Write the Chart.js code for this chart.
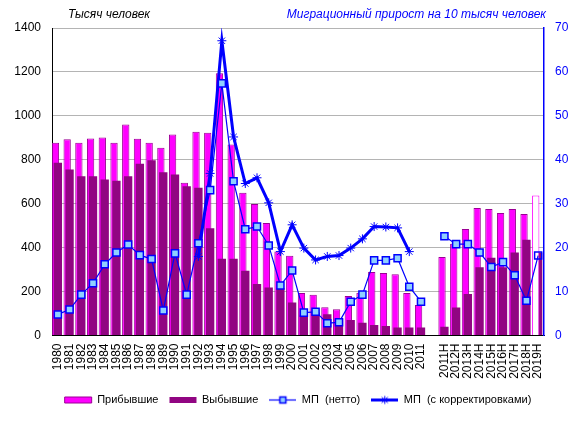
<!DOCTYPE html>
<html>
<head>
<meta charset="utf-8">
<script src="https://cdn.jsdelivr.net/npm/chart.js@4/dist/chart.umd.min.js"></script>
<style>
    html, body { margin: 0; padding: 0; background: #fff; }
    #wrap { position: relative; width: 578px; height: 423px; }
    .axis-title { position: absolute; top: 7px; font: italic 12px "Liberation Sans", Arial, sans-serif; white-space: nowrap; }
    #title-left { left: 68px; color: #000; }
    #title-right { right: 32px; color: #0000ff; }
</style>
</head>
<body>
<div id="wrap">
    <canvas id="chart" width="578" height="423"></canvas>
    <div class="axis-title" id="title-left">Тысяч человек</div>
    <div class="axis-title" id="title-right">Миграционный прирост на 10 тысяч человек</div>
</div>
<script>
// Categories: 1980–2011, an empty slot, then 2011H–2019H
const years = [
    '1980', '1981', '1982', '1983', '1984', '1985', '1986', '1987', '1988', '1989',
    '1990', '1991', '1992', '1993', '1994', '1995', '1996', '1997', '1998', '1999',
    '2000', '2001', '2002', '2003', '2004', '2005', '2006', '2007', '2008', '2009',
    '2010', '2011', '',
    '2011H', '2012H', '2013H', '2014H', '2015H', '2016H', '2017H', '2018H', '2019H'
];

// Тысяч человек (left axis)
const arrivals = [
    878, 893, 878, 897, 902, 878, 961, 896, 878, 855,
    915, 696, 928, 923, 1194, 870, 650, 599, 512, 383,
    363, 193, 185, 129, 120, 180, 195, 289, 284, 279,
    193, 139, null,
    357, 418, 485, 581, 576, 558, 576, 553, 637
];
const departures = [
    786, 756, 725, 725, 710, 705, 725, 782, 798, 743,
    733, 680, 673, 488, 349, 349, 295, 235, 218, 215,
    150, 95, 105, 97, 76, 71, 58, 48, 43, 36,
    36, 36, null,
    40, 127, 189, 311, 354, 311, 378, 436, 378
];

// На 10 тысяч человек (right axis)
const netMigration = [
    4.8, 5.9, 9.3, 11.9, 16.2, 18.9, 20.7, 18.3, 17.4, 5.7,
    18.7, 9.3, 21.0, 33.1, 57.4, 35.1, 24.2, 24.8, 20.5, 11.4,
    14.8, 5.2, 5.4, 2.8, 3.0, 7.7, 9.3, 17.1, 17.1, 17.6,
    11.1, 7.7, null,
    22.6, 20.8, 20.8, 18.9, 15.6, 16.7, 13.7, 7.9, 18.2
];
const corrected = [
    null, null, null, null, null, null, null, null, null, null,
    null, null, 18.0, 36.9, 67.1, 45.2, 34.6, 35.9, 30.2, 19.1,
    25.2, 19.9, 17.2, 18.0, 18.2, 19.9, 22.0, 24.8, 24.7, 24.5,
    19.1, null, null,
    null, null, null, null, null, null, null, null, null
];

const leftTicks = [0, 200, 400, 600, 800, 1000, 1200, 1400];
const rightTicks = [0, 10, 20, 30, 40, 50, 60, 70];

// the last half-year is an estimate: drawn as an empty outline
const estimateLabel = '2019H';

const PINK = '#ff00ff';
const PINK_EDGE = '#9b0094';
const PURPLE = '#910582';
const BLUE = '#0000ff';
const SKY = '#8fd0ff';
const FONT = '"Liberation Sans", Arial, sans-serif';

Chart.defaults.font.family = FONT;
Chart.defaults.font.size = 12;
Chart.defaults.color = '#000';

const isEstimate = years.map(y => y === estimateLabel);

// legend icons for the two line series
function lineIcon(lineWidth, marker) {
    const c = document.createElement('canvas');
    c.width = 27; c.height = 13;
    const g = c.getContext('2d');
    g.strokeStyle = BLUE;
    g.lineWidth = lineWidth;
    g.beginPath(); g.moveTo(0, 6.5); g.lineTo(27, 6.5); g.stroke();
    g.lineWidth = 1;
    if (marker === 'rect') {
        g.fillStyle = SKY;
        g.fillRect(10.5, 3.5, 6, 6);
        g.lineWidth = 1.5;
        g.strokeRect(10.5, 3.5, 6, 6);
    } else {
        g.beginPath();
        g.moveTo(10.5, 3.5); g.lineTo(16.5, 9.5);
        g.moveTo(16.5, 3.5); g.lineTo(10.5, 9.5);
        g.moveTo(13.5, 2.5); g.lineTo(13.5, 10.5);
        g.stroke();
    }
    return c;
}

const chart = new Chart(document.getElementById('chart'), {
    type: 'bar',
    data: {
        labels: years,
        datasets: [
            {
                label: 'Прибывшие',
                data: arrivals.map((v, i) => isEstimate[i] ? null : v),
                backgroundColor: PINK,
                borderColor: PINK_EDGE,
                borderWidth: 1,
                yAxisID: 'y',
                stack: 'in',
                grouped: true,
                categoryPercentage: 0.82,
                barPercentage: 1.52,
                order: 4
            },
            {
                label: 'Выбывшие',
                data: departures,
                backgroundColor: PURPLE,
                borderColor: PURPLE,
                borderWidth: 0,
                yAxisID: 'y',
                grouped: false,
                categoryPercentage: 1,
                barPercentage: 0.71,
                order: 3
            },
            {
                type: 'line',
                label: 'МП  (нетто)',
                data: netMigration,
                yAxisID: 'y2',
                borderColor: BLUE,
                borderWidth: 1.2,
                pointStyle: 'rect',
                pointRadius: 5,
                pointBorderWidth: 1.5,
                pointBorderColor: BLUE,
                pointBackgroundColor: isEstimate.map(e => e ? 'rgba(0,0,0,0)' : SKY),
                spanGaps: false,
                order: 0
            },
            {
                type: 'line',
                label: 'МП  (с корректировками)',
                data: corrected,
                yAxisID: 'y2',
                borderColor: BLUE,
                borderWidth: 3,
                pointStyle: 'star',
                pointRadius: 4.5,
                pointBorderWidth: 1,
                pointBorderColor: BLUE,
                pointBackgroundColor: BLUE,
                spanGaps: false,
                order: 1
            },
            {
                // estimate outline, same slot as the pink bars
                label: 'estimate',
                data: arrivals.map((v, i) => isEstimate[i] ? v : null),
                backgroundColor: '#ffffff',
                borderColor: PINK,
                borderWidth: 1,
                yAxisID: 'y',
                stack: 'in',
                grouped: true,
                categoryPercentage: 0.82,
                barPercentage: 1.52,
                order: 2
            },
            {
                // empty group slot so the pink bars sit left of centre
                label: 'slot',
                data: years.map(() => null),
                yAxisID: 'y',
                stack: 'slot',
                grouped: true,
                categoryPercentage: 0.82,
                order: 5
            }
        ]
    },
    options: {
        responsive: false,
        animation: false,
        layout: { padding: { top: 28, left: 0, right: 0, bottom: 7.5 } },
        scales: {
            x: {
                stacked: true,
                offset: true,
                grid: { display: false, drawTicks: false },
                border: { display: true, color: '#000', width: 1 },
                ticks: {
                    autoSkip: false, minRotation: 90, maxRotation: 90, padding: 8,
                    font: { size: 12 }, color: '#000'
                },
                afterFit: s => { s.height = 48; }
            },
            y: {
                stacked: false,
                min: 0, max: 1400,
                afterBuildTicks: s => { s.ticks = leftTicks.map(v => ({ value: v })); },
                grid: { color: '#b4b4b4', lineWidth: 1, drawTicks: false },
                border: { display: true, color: '#000', width: 1 },
                ticks: { padding: 11, font: { size: 12 }, color: '#000', callback: v => String(v) },
                afterFit: s => { s.width = 52; }
            },
            y2: {
                position: 'right',
                min: 0, max: 70,
                afterBuildTicks: s => { s.ticks = rightTicks.map(v => ({ value: v })); },
                grid: { drawOnChartArea: false, drawTicks: false },
                border: { display: true, color: BLUE, width: 1.5 },
                ticks: { padding: 11, font: { size: 12 }, color: BLUE, callback: v => String(v) },
                afterFit: s => { s.width = 34; }
            }
        },
        plugins: {
            tooltip: { enabled: false },
            legend: {
                position: 'bottom',
                fullSize: false,
                labels: {
                    usePointStyle: true,
                    pointStyleWidth: 27,
                    boxHeight: 6,
                    padding: 11,
                    font: { size: 11 },
                    color: '#000',
                    filter: item => item.datasetIndex < 4,
                    sort: (a, b) => a.datasetIndex - b.datasetIndex,
                    generateLabels: c => {
                        const items = Chart.defaults.plugins.legend.labels.generateLabels(c);
                        items.forEach(it => {
                            if (it.datasetIndex < 2) it.pointStyle = 'rect';
                            if (it.datasetIndex === 2) it.pointStyle = lineIcon(1.2, 'rect');
                            if (it.datasetIndex === 3) it.pointStyle = lineIcon(3, 'star');
                        });
                        return items;
                    }
                }
            }
        }
    }
});
</script>
</body>
</html>
